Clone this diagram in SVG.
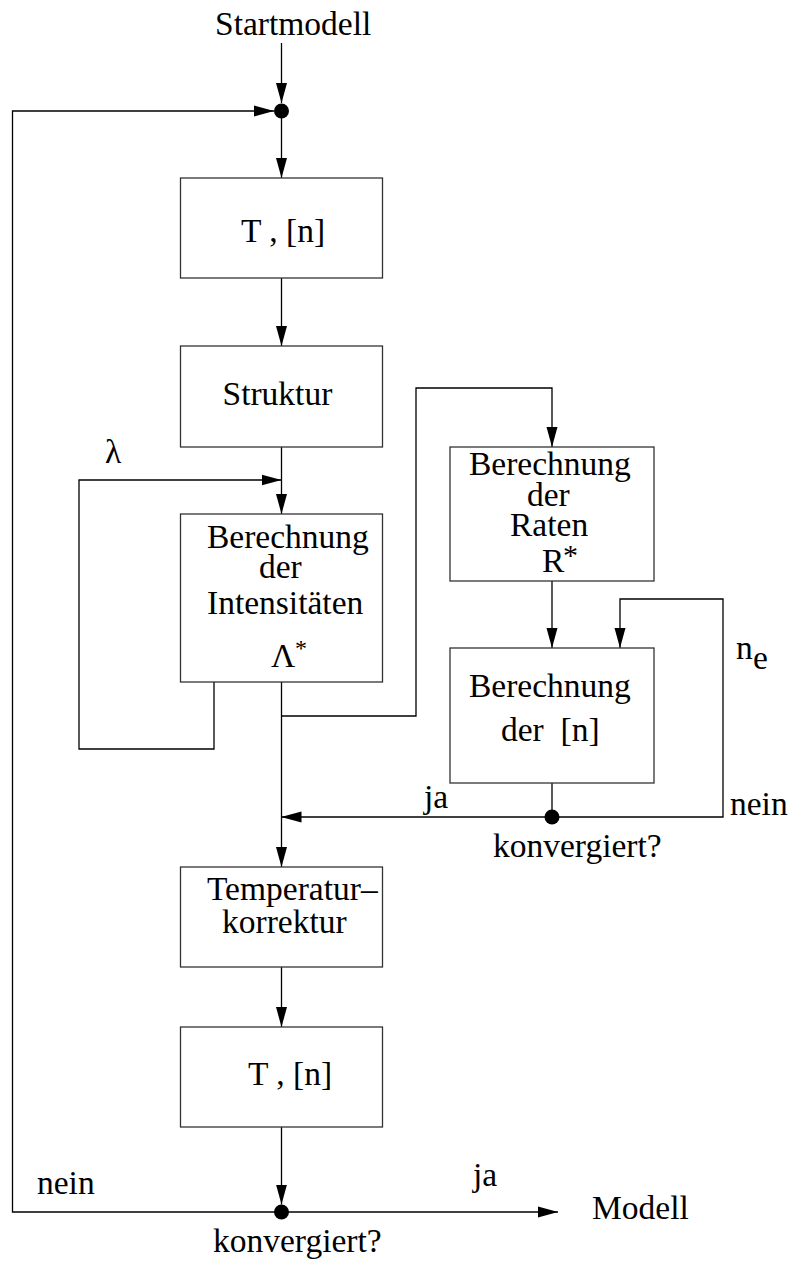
<svg xmlns="http://www.w3.org/2000/svg" width="788" height="1263" viewBox="0 0 788 1263">
<defs>
<style>
.box{fill:#fff;stroke:#333;stroke-width:1.3}
.ln{fill:none;stroke:#000;stroke-width:1.3}
.t{font-family:"Liberation Serif","Times New Roman",serif;font-size:33.5px;fill:#000;white-space:pre}
.sup{font-family:"Liberation Serif","Times New Roman",serif;fill:#000}
.dot{fill:#000}
</style>
<marker id="ah" markerUnits="userSpaceOnUse" markerWidth="20" markerHeight="12" refX="20" refY="6" orient="auto">
<path d="M0,0.5 L20,6 L0,11.5 z" fill="#000"/>
</marker>
</defs>
<rect width="788" height="1263" fill="#fff"/>
<g id="connectors">
<path class="ln" d="M281.5,43 V103" marker-end="url(#ah)"/>
<path class="ln" d="M281.5,118 V178" marker-end="url(#ah)"/>
<path class="ln" d="M281.5,278 V346" marker-end="url(#ah)"/>
<path class="ln" d="M281.5,447 V514" marker-end="url(#ah)"/>
<path class="ln" d="M214,682 V749 H79 V480 H281.5" marker-end="url(#ah)"/>
<path class="ln" d="M281.5,682 V867" marker-end="url(#ah)"/>
<path class="ln" d="M281.5,716 H416 V388 H552 V447" marker-end="url(#ah)"/>
<path class="ln" d="M552,581 V648" marker-end="url(#ah)"/>
<path class="ln" d="M552,783 V817"/>
<path class="ln" d="M552,817 H281.5" marker-end="url(#ah)"/>
<path class="ln" d="M552,817 H723 V599 H620 V648" marker-end="url(#ah)"/>
<path class="ln" d="M281.5,967 V1027" marker-end="url(#ah)"/>
<path class="ln" d="M281.5,1127 V1204.5" marker-end="url(#ah)"/>
<path class="ln" d="M281.5,1212 H558" marker-end="url(#ah)"/>
<path class="ln" d="M281.5,1212 H12.5 V111 H274" marker-end="url(#ah)"/>
</g>
<g id="start"><text class="t" x="215" y="35">Startmodell</text></g>
<g id="merge-top"><circle class="dot" cx="281.5" cy="111" r="7.5"/></g>
<g id="box-tn1"><rect class="box" x="180.5" y="178" width="202" height="100"/><text class="t" x="241" y="242">T , [n]</text></g>
<g id="box-struktur"><rect class="box" x="180.5" y="346" width="202" height="101"/><text class="t" x="222.5" y="405">Struktur</text></g>
<g id="lambda"><text class="t" x="105" y="463">λ</text></g>
<g id="box-intens"><rect class="box" x="180.5" y="514" width="202" height="168"/>
<text class="t" x="207" y="548">Berechnung</text>
<text class="t" x="259" y="578">der</text>
<text class="t" x="207" y="614">Intensitäten</text>
<text class="t" x="271" y="667">Λ</text><text class="sup" x="295" y="656" font-size="24">*</text></g>
<g id="box-raten"><rect class="box" x="450" y="447" width="204" height="134"/>
<text class="t" x="469" y="475">Berechnung</text>
<text class="t" x="527" y="506">der</text>
<text class="t" x="510" y="536">Raten</text>
<text class="t" x="542" y="572">R</text><text class="sup" x="563" y="565" font-size="30">*</text></g>
<g id="box-n"><rect class="box" x="450" y="648" width="204" height="135"/>
<text class="t" x="469" y="697">Berechnung</text>
<text class="t" x="501" y="741">der  [n]</text></g>
<g id="conv-inner"><circle class="dot" cx="552" cy="817" r="7.5"/>
<text class="t" x="424" y="808">ja</text>
<text class="t" x="730" y="815">nein</text>
<text class="t" x="493" y="857">konvergiert?</text>
<text class="t" x="736" y="659">n</text><text class="t" x="753" y="669">e</text></g>
<g id="box-temp"><rect class="box" x="180.5" y="867" width="202" height="100"/>
<text class="t" x="207" y="900">Temperatur–</text>
<text class="t" x="222" y="933">korrektur</text></g>
<g id="box-tn2"><rect class="box" x="180.5" y="1027" width="202" height="100"/><text class="t" x="248" y="1085">T , [n]</text></g>
<g id="conv-outer"><circle class="dot" cx="281.5" cy="1212" r="7.5"/>
<text class="t" x="37" y="1194">nein</text>
<text class="t" x="473" y="1186">ja</text>
<text class="t" x="213" y="1252">konvergiert?</text></g>
<g id="modell"><text class="t" x="592" y="1219">Modell</text></g>
</svg>
